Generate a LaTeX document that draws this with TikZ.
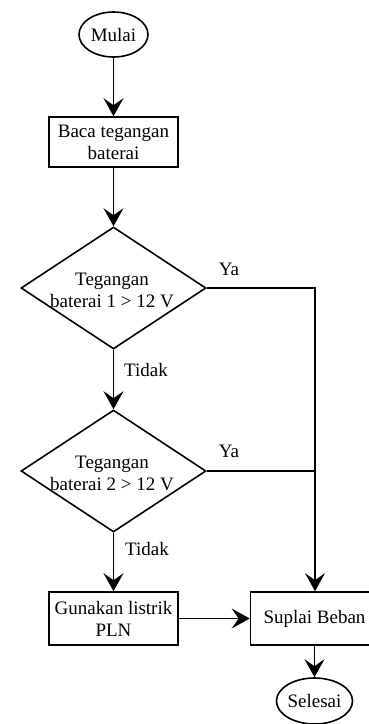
\documentclass[tikz,border=0pt]{standalone}
\usepackage{fontspec}
\setmainfont{Liberation Serif}
\usetikzlibrary{shapes.geometric,arrows.meta}
\begin{document}
\begin{tikzpicture}[x=1pt,y=-1pt,
  every node/.style={font=\fontsize{19}{22}\selectfont},
  line/.style={line width=1.6pt},
  arr/.style={line width=1.6pt,-{Stealth[length=18pt,width=20pt,inset=7pt]}},
  term/.style={draw,line width=1.6pt,ellipse,inner sep=0pt},
  proc/.style={draw,line width=1.6pt,rectangle,minimum width=129pt,minimum height=50pt,inner sep=0pt,align=center},
  dec/.style={draw,line width=1.6pt,diamond,minimum width=185pt,minimum height=122pt,inner sep=0pt},
  lbl/.style={inner sep=0pt,align=center}]
\useasboundingbox (0,0) rectangle (369,724);
\clip (0,0) rectangle (369,724);
\node[term,minimum width=69pt,minimum height=45pt] (mulai) at (113.5,34.5) {Mulai};
\node[proc] (baca) at (113.5,142) {Baca tegangan\\baterai};
\node[dec] (d1) at (113.5,288) {};
\node[lbl] (d1t) at (112,290) {Tegangan\\baterai 1 > 12 V};
\node[dec] (d2) at (113.5,471) {};
\node[lbl] (d2t) at (112,473) {Tegangan\\baterai 2 > 12 V};
\node[proc,minimum height=53pt] (guna) at (113.5,618.5) {Gunakan listrik\\PLN};
\node[proc,minimum width=128pt,minimum height=53pt] (suplai) at (314.5,618.5) {Suplai Beban};
\node[term,minimum width=70pt,minimum height=46pt] (selesai) at (314.5,701) {Selesai};
\coordinate (c1) at (315,288);
\coordinate (c2) at (315,471);
\node[lbl] (ya1) at (229,269) {Ya};
\node[lbl] (ya2) at (229,451) {Ya};
\node[lbl] (t1) at (146,370) {Tidak};
\node[lbl] (t2) at (147,549) {Tidak};
\draw[arr] (mulai.south) -- (baca.north);
\draw[arr] (baca.south) -- (d1.north);
\draw[arr] (d1.south) -- (d2.north);
\draw[arr] (d2.south) -- (guna.north);
\draw[arr] (d1.east) -- (c1) -- (suplai.north -| c1);
\draw[line] (d2.east) -- (c2);
\draw[arr] (guna.east) -- (suplai.west);
\draw[arr] (suplai.south -| selesai.north) -- (selesai.north);
\end{tikzpicture}
\end{document}
